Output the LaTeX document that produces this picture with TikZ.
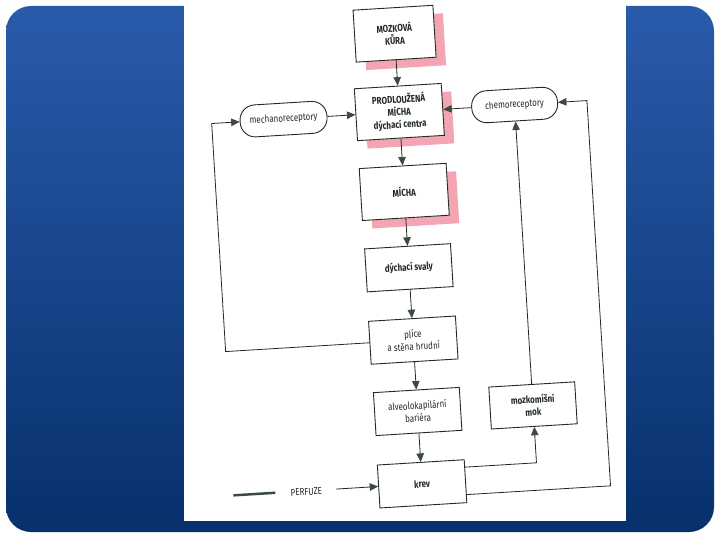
\documentclass[tikz,border=0pt]{standalone}
\usepackage{fontspec}
\setmainfont{Fira Sans}[FakeStretch=0.8]
\usetikzlibrary{arrows.meta,shadows,calc}
\definecolor{bgtop}{HTML}{2A5BAB}
\definecolor{bgbot}{HTML}{07306C}
\definecolor{pinksh}{HTML}{F3A5B3}
\definecolor{ink}{HTML}{232B24}
\definecolor{tipc}{HTML}{3B4B3E}
\begin{document}
\begin{tikzpicture}[x=1pt,y=-1pt,
  box/.style={draw=ink, line width=0.9pt, fill=white, minimum width=87pt, minimum height=43pt, align=center, inner sep=1pt, text=ink, font=\fontsize{10}{12.5}\selectfont},
  tall/.style={minimum height=52pt},
  bold/.style={font=\fontsize{10}{12.5}\selectfont\bfseries},
  shad/.style={drop shadow={shadow xshift=10pt, shadow yshift=-8pt, fill=pinksh, opacity=1, draw=none}},
  pill/.style={draw=ink, line width=0.9pt, fill=white, rounded corners=15pt, minimum width=86pt, minimum height=32pt, inner sep=1pt, text=ink, font=\fontsize{10}{12}\selectfont},
  conn/.style={draw=ink, line width=0.8pt, -{Triangle[length=8.5pt,width=7.5pt,fill=tipc,color=tipc]}},
  plain/.style={draw=ink, line width=0.8pt},
  legendline/.style={draw=tipc, line width=2.5pt}]
\useasboundingbox (0,0) rectangle (720,540);
\shade[top color=bgtop, bottom color=bgbot, rounded corners=25pt] (6,6) rectangle (714,532);
\fill[white] (184,0) rectangle (626,521);
\begin{scope}[rotate around={3.5:(405,270)}, transform shape]
  \node[box,tall,bold,shad,minimum width=80pt] (kura) at (409,33.5) {MOZKOVÁ\\KŮRA};
  \node[box,tall,bold,shad] (prod) at (409,112) {PRODLOUŽENÁ\\MÍCHA\\dýchací centra};
  \node[box,tall,bold,shad] (micha) at (409,192) {MÍCHA};
  \node[box,bold,minimum width=86pt] (svaly) at (409,268) {dýchací svaly};
  \node[box] (plice) at (409,340.5) {plíce\\a stěna hrudní};
  \node[box,minimum width=86pt] (alveo) at (409,412) {alveolokapilární\\bariéra};
  \node[box,bold] (krev) at (409,484.5) {krev};
  \node[box,bold,minimum width=86pt,minimum height=42pt] (mok) at (524.5,413) {mozkomíšní\\mok};
  \node[pill] (chemo) at (524.5,112) {chemoreceptory};
  \node[pill,minimum width=87pt] (mechano) at (293,112) {mechanoreceptory};
  \node[text=ink, font=\fontsize{10}{12}\selectfont] (perf) at (293,485.5) {PERFUZE};
  \coordinate (lc) at (221,112);
  \coordinate (rc) at (597,112);
  \coordinate (pstart) at (323,484.5);
  \coordinate (la) at (220,484.5);
  \coordinate (lb) at (262,484.5);
  \draw[conn] (kura) -- (prod);
  \draw[conn] (prod) -- (micha);
  \draw[conn] (micha) -- (svaly);
  \draw[conn] (svaly) -- (plice);
  \draw[conn] (plice) -- (alveo);
  \draw[conn] (alveo) -- (krev);
  \draw[conn] (mechano) -- (prod);
  \draw[conn] (chemo) -- (prod);
  \draw[conn] (mok) -- (chemo);
  \draw[conn] (plice.west) -| (lc) -- (mechano.west);
  \draw[conn] ($(krev.east)+(0,13.5)$) -| (rc) -- (chemo.east);
  \draw[conn] ($(krev.east)+(0,-14)$) -| (mok.south);
  \draw[conn] (pstart) -- (krev.west);
  \draw[legendline] (la) -- (lb);
\end{scope}
\end{tikzpicture}
\end{document}
